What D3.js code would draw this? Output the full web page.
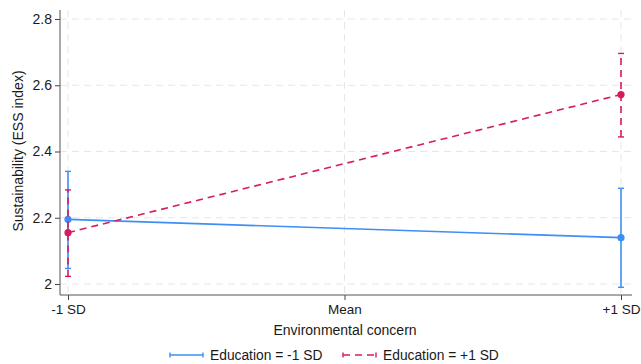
<!DOCTYPE html>
<html>
<head>
<meta charset="utf-8">
<script src="https://cdn.jsdelivr.net/npm/d3@7"></script>
<style>
body { margin: 0; background: #fff; }
text { font-family: "Liberation Sans", Arial, sans-serif; fill: #1a1a1a; }
</style>
</head>
<body>
<div id="chart"></div>
<script>
// categories on the x axis
var xCats = ["-1 SD", "Mean", "+1 SD"];
var yTicks = [2, 2.2, 2.4, 2.6, 2.8];

// predicted values (only at -1 SD and +1 SD)
var seriesNames = ["Education = -1 SD", "Education = +1 SD"];
var lowEduMean = [2.195, 2.140];
var lowEduLo = [2.047, 1.990];
var lowEduHi = [2.340, 2.289];
var highEduMean = [2.155, 2.572];
var highEduLo = [2.023, 2.444];
var highEduHi = [2.284, 2.696];
var pointCats = ["-1 SD", "+1 SD"];

var svgWidth = 641, svgHeight = 364;
var plotLeft = 60, plotRight = 632, plotTop = 10, plotBottom = 295;

var svg = d3.select("#chart").append("svg")
    .attr("width", svgWidth)
    .attr("height", svgHeight);

var x = d3.scalePoint().domain(xCats).range([68, 621]);
var y = d3.scaleLinear().domain([2, 2.8]).range([284, 19]);

//gridlines
var grid = svg.append("g");
grid.selectAll(".hg").data(yTicks).enter().append("line")
    .attr("x1", plotLeft).attr("x2", plotRight)
    .attr("y1", d => y(d)).attr("y2", d => y(d))
    .attr("stroke", "#e6e6e6").attr("stroke-dasharray", "7,5");
grid.selectAll(".vg").data(xCats).enter().append("line")
    .attr("x1", d => x(d)).attr("x2", d => x(d))
    .attr("y1", plotTop).attr("y2", plotBottom)
    .attr("stroke", "#e6e6e6").attr("stroke-dasharray", "7,5");

//axes
var yAxis = svg.append("g")
    .attr("transform", `translate(${plotLeft},0)`)
    .call(d3.axisLeft(y).tickValues(yTicks).tickFormat(d3.format("")).tickSize(5).tickPadding(3));
yAxis.select(".domain").remove();
yAxis.selectAll("text").style("font-size", "14px");
yAxis.selectAll("line").attr("stroke", "#444");

var xAxis = svg.append("g")
    .attr("transform", `translate(0,${plotBottom})`)
    .call(d3.axisBottom(x).tickSize(5).tickPadding(4));
xAxis.select(".domain").remove();
xAxis.selectAll("text").style("font-size", "13.5px");
xAxis.selectAll("line").attr("stroke", "#444");

svg.append("line").attr("x1", plotLeft).attr("x2", plotLeft)
    .attr("y1", plotTop).attr("y2", plotBottom).attr("stroke", "#555");
svg.append("line").attr("x1", plotLeft).attr("x2", plotRight)
    .attr("y1", plotBottom).attr("y2", plotBottom).attr("stroke", "#555");

//axis titles
svg.append("text")
    .attr("transform", `translate(23,151) rotate(-90)`)
    .attr("text-anchor", "middle")
    .style("font-size", "14px")
    .text("Sustainability (ESS index)");
svg.append("text")
    .attr("x", 345).attr("y", 335)
    .attr("text-anchor", "middle")
    .style("font-size", "14px")
    .text("Environmental concern");

//series
var series = [
    {name: seriesNames[0], mean: lowEduMean, lo: lowEduLo, hi: lowEduHi, color: "#3d8ff5", dash: null},
    {name: seriesNames[1], mean: highEduMean, lo: highEduLo, hi: highEduHi, color: "#d81b5c", dash: "7,5"}
];

var line = d3.line().x((d, i) => x(pointCats[i])).y(d => y(d));

series.forEach(function(s) {
    var g = svg.append("g");
    g.append("path").datum(s.mean)
        .attr("d", line)
        .attr("fill", "none")
        .attr("stroke", s.color)
        .attr("stroke-width", 1.6)
        .attr("stroke-dasharray", s.dash);
    pointCats.forEach(function(c, i) {
        g.append("line")
            .attr("x1", x(c)).attr("x2", x(c))
            .attr("y1", y(s.lo[i])).attr("y2", y(s.hi[i]))
            .attr("stroke", s.color).attr("stroke-width", 1.6)
            .attr("stroke-dasharray", s.dash);
        [s.lo[i], s.hi[i]].forEach(function(v) {
            g.append("line")
                .attr("x1", x(c) - 3).attr("x2", x(c) + 3)
                .attr("y1", y(v)).attr("y2", y(v))
                .attr("stroke", s.color).attr("stroke-width", 1.4);
        });
        g.append("circle")
            .attr("cx", x(c)).attr("cy", y(s.mean[i]))
            .attr("r", 3.6)
            .attr("fill", s.color);
    });
});

//legend
var legendX = [170, 343];
series.forEach(function(s, i) {
    var lg = svg.append("g").attr("transform", `translate(${legendX[i]},355)`);
    lg.append("line").attr("x1", 0).attr("x2", 33).attr("y1", 0).attr("y2", 0)
        .attr("stroke", s.color).attr("stroke-width", 1.6).attr("stroke-dasharray", s.dash);
    [0, 33].forEach(function(px) {
        lg.append("line").attr("x1", px).attr("x2", px).attr("y1", -2.5).attr("y2", 2.5)
            .attr("stroke", s.color).attr("stroke-width", 1.4);
    });
    lg.append("text").attr("x", 40).attr("y", 5)
        .style("font-size", "13.8px")
        .text(s.name);
});
</script>
</body>
</html>
